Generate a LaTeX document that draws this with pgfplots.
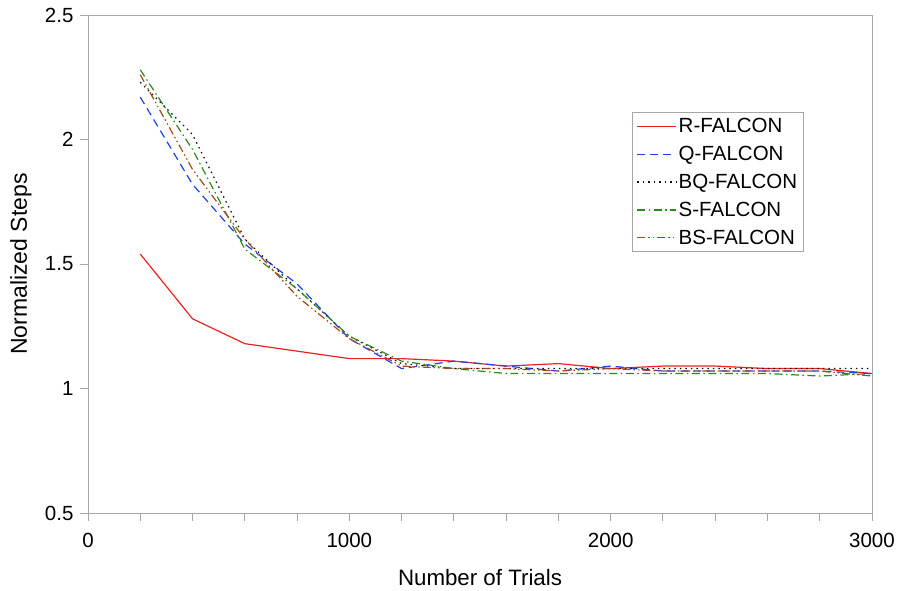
\documentclass[border=0pt]{standalone}
\usepackage{fontspec}
\setmainfont{Liberation Sans}
\usepackage{pgfplots}
\pgfplotsset{compat=1.18}
\definecolor{framegray}{HTML}{A6A6A6}
\definecolor{rcol}{HTML}{F02020}
\definecolor{qcol}{HTML}{2040F0}
\definecolor{bqcol}{HTML}{101010}
\definecolor{scol}{HTML}{2A8A1E}
\definecolor{bscol}{HTML}{A8461E}
\begin{document}
\begin{tikzpicture}
\path[use as bounding box] (0pt,0pt) rectangle (898pt,591pt);
\begin{axis}[at={(88pt,78pt)}, anchor=south west, scale only axis,
  width=784pt, height=498pt,
  xmin=0, xmax=3000, ymin=0.5, ymax=2.5,
  xtick={0,1000,2000,3000}, minor xtick={200,400,...,2800},
  ytick={0.5,1,1.5,2,2.5},
  xtick pos=lower, ytick pos=left, tick align=outside,
  major tick length=8pt, minor tick length=8pt,
  axis line style={draw=framegray, line width=0.9pt},
  tick style={draw=framegray, line width=0.9pt},
  tick label style={font=\fontsize{20.5}{20.5}\selectfont},
  xticklabel style={yshift=-9pt},
  yticklabel style={xshift=-3pt},
  /pgf/number format/assume math mode=true,
  /pgf/number format/set thousands separator={},
  xlabel={Number of Trials}, ylabel={Normalized Steps},
  xlabel style={at={(axis description cs:0.5,-0.1305)}, anchor=center,
    font=\fontsize{22.3}{22.3}\selectfont},
  ylabel style={at={(axis description cs:-0.0855,0.5)}, anchor=center,
    font=\fontsize{23}{23}\selectfont},
  legend style={at={(0.694,0.805)}, anchor=north west, draw=framegray,
    line width=0.9pt, font=\fontsize{20.5}{20.5}\selectfont,
    row sep=8pt, inner sep=4pt},
  legend cell align=left,
  legend image code/.code={\draw[#1, line width=1.2pt] (0pt,0pt) -- (39pt,0pt);},
]
\addplot[rcol, line width=1.2pt] coordinates {
 (200,1.54) (400,1.28) (600,1.18) (800,1.15) (1000,1.12) (1200,1.12) (1400,1.11)
 (1600,1.09) (1800,1.10) (2000,1.08) (2200,1.09) (2400,1.09) (2600,1.08) (2800,1.08) (3000,1.06)};
\addplot[qcol, line width=1.2pt, dash pattern=on 8pt off 5pt] coordinates {
 (200,2.17) (400,1.82) (600,1.58) (800,1.42) (1000,1.20) (1200,1.08) (1400,1.11)
 (1600,1.09) (1800,1.07) (2000,1.09) (2200,1.07) (2400,1.07) (2600,1.07) (2800,1.07) (3000,1.06)};
\addplot[bqcol, line width=1.2pt, dash pattern=on 1.5pt off 4pt] coordinates {
 (200,2.23) (400,2.02) (600,1.60) (800,1.40) (1000,1.21) (1200,1.10) (1400,1.08)
 (1600,1.08) (1800,1.08) (2000,1.08) (2200,1.08) (2400,1.08) (2600,1.08) (2800,1.08) (3000,1.08)};
\addplot[scol, line width=1.2pt, dash pattern=on 8pt off 3.5pt on 1.5pt off 3.5pt] coordinates {
 (200,2.28) (400,1.96) (600,1.56) (800,1.40) (1000,1.21) (1200,1.11) (1400,1.08)
 (1600,1.06) (1800,1.06) (2000,1.06) (2200,1.06) (2400,1.06) (2600,1.06) (2800,1.05) (3000,1.06)};
\addplot[bscol, line width=1.2pt, dash pattern=on 8pt off 3pt on 1.5pt off 3pt on 1.5pt off 3pt] coordinates {
 (200,2.26) (400,1.88) (600,1.60) (800,1.37) (1000,1.20) (1200,1.09) (1400,1.08)
 (1600,1.08) (1800,1.07) (2000,1.08) (2200,1.07) (2400,1.07) (2600,1.07) (2800,1.07) (3000,1.05)};
\legend{R-FALCON, Q-FALCON, BQ-FALCON, S-FALCON, BS-FALCON}
\end{axis}
\end{tikzpicture}
\end{document}
